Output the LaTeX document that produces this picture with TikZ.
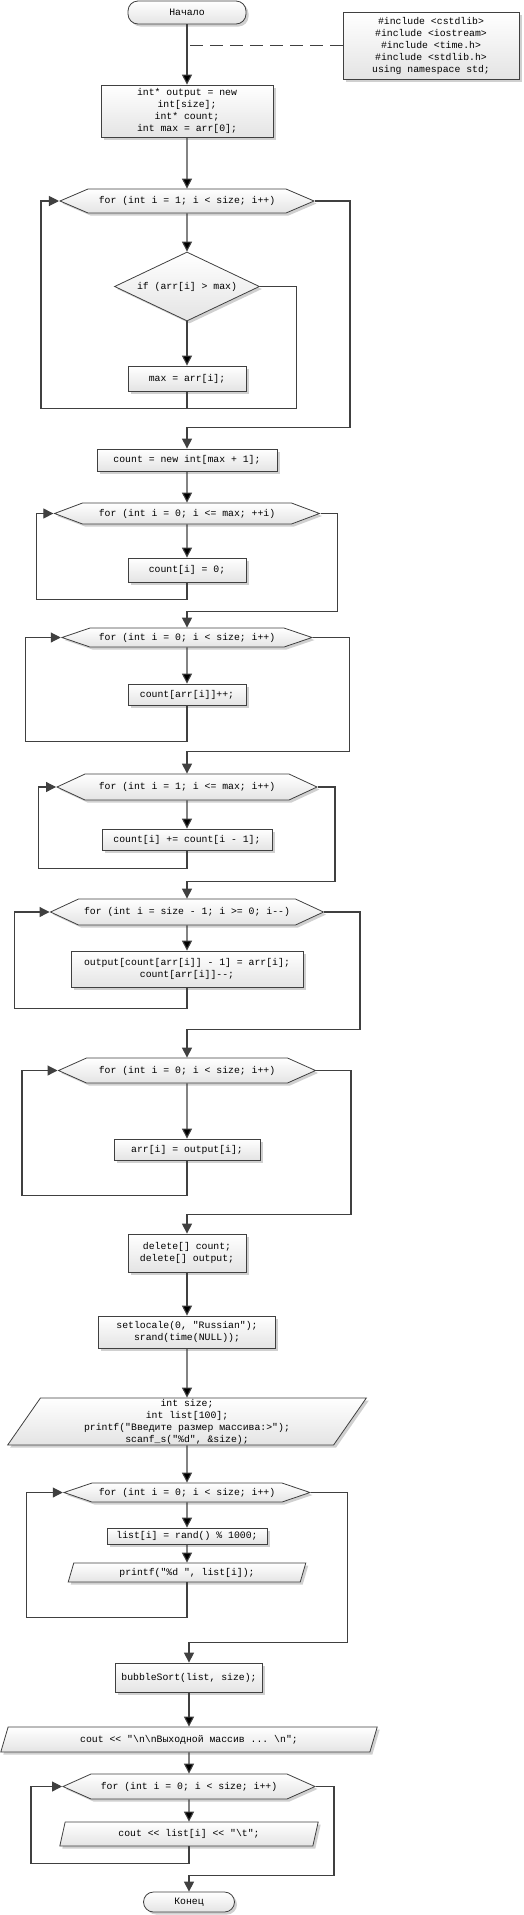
\documentclass[tikz,border=0pt]{standalone}
\usepackage{fontspec}
\setmonofont{Liberation Mono}
\usepackage{tikz}
\usetikzlibrary{positioning, shapes.geometric, shapes.symbols, shadows, arrows.meta}

\definecolor{linegray}{RGB}{64,64,64}
\definecolor{fillgray}{RGB}{228,228,228}
\definecolor{shadowgray}{RGB}{208,208,208}

\begin{document}
\begin{tikzpicture}[auto, thick,
  every node/.style={font=\ttfamily\fontsize{9.8}{12}\selectfont, align=center, inner sep=0pt},
  main node/.style={draw=linegray, line width=0.8pt, top color=white, bottom color=fillgray,
    drop shadow={shadow xshift=2.5pt, shadow yshift=-2.5pt, fill=shadowgray, opacity=1}},
  box node/.style={main node, rectangle},
  end node/.style={main node, rectangle, rounded corners=10pt},
  loop node/.style={main node, signal, signal to=east and west},
  if node/.style={main node, diamond, aspect=2.1},
  io node/.style={main node, trapezium, trapezium stretches=true},
  back/.style={draw=linegray, line width=1.1pt},
  flow/.style={back, -{Triangle[length=10pt,width=10pt]}}]
  \useasboundingbox (0,0) rectangle (524pt,-1915pt);

  \node[end node, minimum width=118pt, minimum height=23pt] (1) at (187pt,-12.5pt) {Начало};
  \node[box node, minimum width=176pt, minimum height=67pt] (2) [node distance=244pt, right of=1, yshift=-33pt]
    {\#include <cstdlib>\\\#include <iostream>\\\#include <time.h>\\\#include <stdlib.h>\\using namespace std;};
  \node[box node, minimum width=172pt, minimum height=52pt] (3) [node distance=98.5pt, below of=1]
    {int* output = new\\int[size];\\int* count;\\int max = arr[0];};
  \node[loop node, minimum width=254pt, minimum height=24pt, signal pointer angle=46.4] (4) [node distance=90pt, below of=3]
    {for (int i = 1; i < size; i++)};
  \node[if node, minimum width=145pt, minimum height=69pt] (5) [node distance=85.5pt, below of=4] {if (arr[i] > max)};
  \node[box node, minimum width=118pt, minimum height=25pt] (6) [node distance=92pt, below of=5] {max = arr[i];};
  \node[box node, minimum width=180pt, minimum height=22pt] (7) [node distance=81.5pt, below of=6] {count = new int[max + 1];};
  \node[loop node, minimum width=265pt, minimum height=21pt, signal pointer angle=41.1] (8) [node distance=53.5pt, below of=7]
    {for (int i = 0; i <= max; ++i)};
  \node[box node, minimum width=118pt, minimum height=24pt] (9) [node distance=56.5pt, below of=8] {count[i] = 0;};
  \node[loop node, minimum width=250pt, minimum height=19pt, signal pointer angle=37.5] (10) [node distance=67.5pt, below of=9]
    {for (int i = 0; i < size; i++)};
  \node[box node, minimum width=118pt, minimum height=21pt] (11) [node distance=57pt, below of=10] {count[arr[i]]++;};
  \node[loop node, minimum width=260pt, minimum height=26pt, signal pointer angle=49.8] (12) [node distance=92.5pt, below of=11]
    {for (int i = 1; i <= max; i++)};
  \node[box node, minimum width=170pt, minimum height=21pt] (13) [node distance=52.5pt, below of=12] {count[i] += count[i - 1];};
  \node[loop node, minimum width=273pt, minimum height=26pt, signal pointer angle=49.8] (14) [node distance=72.5pt, below of=13]
    {for (int i = size - 1; i >= 0; i-{}-)};
  \node[box node, minimum width=232pt, minimum height=36pt] (15) [node distance=57pt, below of=14]
    {output[count[arr[i]] - 1] = arr[i];\\count[arr[i]]-{}-;};
  \node[loop node, minimum width=257pt, minimum height=25pt, signal pointer angle=48.1] (16) [node distance=101.5pt, below of=15]
    {for (int i = 0; i < size; i++)};
  \node[box node, minimum width=146pt, minimum height=21pt] (17) [node distance=79pt, below of=16] {arr[i] = output[i];};
  \node[box node, minimum width=118pt, minimum height=38pt] (18) [node distance=103.5pt, below of=17]
    {delete[] count;\\delete[] output;};
  \node[box node, minimum width=177pt, minimum height=32pt] (19) [node distance=79pt, below of=18]
    {setlocale(0, "Russian");\\srand(time(NULL));};
  \node[io node, minimum width=359pt, minimum height=47pt, trapezium left angle=63, trapezium right angle=117] (20)
    [node distance=89.5pt, below of=19]
    {int size;\\int list[100];\\printf("Введите размер массива:>");\\scanf\_s("\%d", \&size);};
  \node[loop node, minimum width=246pt, minimum height=19pt, signal pointer angle=37.5] (21) [node distance=71pt, below of=20]
    {for (int i = 0; i < size; i++)};
  \node[box node, minimum width=160pt, minimum height=16pt] (22) [node distance=43.5pt, below of=21] {list[i] = rand() \% 1000;};
  \node[io node, minimum width=238pt, minimum height=19pt, trapezium left angle=70, trapezium right angle=110] (23)
    [node distance=36.5pt, below of=22] {printf("\%d ", list[i]);};
  \node[box node, minimum width=147pt, minimum height=29pt] (24) [node distance=105pt, below of=23, xshift=2pt]
    {bubbleSort(list, size);};
  \node[io node, minimum width=377pt, minimum height=25pt, trapezium left angle=64, trapezium right angle=116] (25)
    [node distance=62pt, below of=24]
    {cout << "\textbackslash n\textbackslash nВыходной массив ... \textbackslash n";};
  \node[loop node, minimum width=252pt, minimum height=25pt, signal pointer angle=48.1] (26) [node distance=47pt, below of=25]
    {for (int i = 0; i < size; i++)};
  \node[io node, minimum width=259pt, minimum height=24pt, trapezium left angle=71.5, trapezium right angle=108.5] (27)
    [node distance=47.5pt, below of=26] {cout << list[i] << "\textbackslash t";};
  \node[end node, minimum width=91pt, minimum height=20pt] (28) [node distance=68pt, below of=27] {Конец};

  % comment link
  \draw[back, dash pattern=on 13pt off 7pt] (2.west) -- ([xshift=2pt]1.south |- 2.west);

  % straight flow
  \path[flow] (1) edge (3);
  \path[flow] (3) edge (4);
  \path[flow] (4) edge (5);
  \path[flow] (5) edge (6);
  \path[flow] (7) edge (8);
  \path[flow] (8) edge (9);
  \path[flow] (10) edge (11);
  \path[flow] (12) edge (13);
  \path[flow] (14) edge (15);
  \path[flow] (16) edge (17);
  \path[flow] (18) edge (19);
  \path[flow] (19) edge (20);
  \path[flow] (20) edge (21);
  \path[flow] (21) edge (22);
  \path[flow] (22) edge (23);
  \path[flow] (24) edge (25);
  \path[flow] (25) edge (26);
  \path[flow] (26) edge (27);

  % loops
  \draw[flow] (6.south) -- ++(0,-17pt) -| ([xshift=-18pt]4.west) -- (4.west);
  \draw[back] (5.east) -- ++(37pt,0) |- ([yshift=-17pt]6.south);
  \draw[flow] (4.east) -- ++(35pt,0) |- ([yshift=21pt]7.north) -- (7.north);

  \draw[flow] (9.south) -- ++(0,-17pt) -| ([xshift=-16.5pt]8.west) -- (8.west);
  \draw[flow] (8.east) -- ++(16.5pt,0) |- ([yshift=16pt]10.north) -- (10.north);

  \draw[flow] (11.south) -- ++(0,-36pt) -| ([xshift=-35pt]10.west) -- (10.west);
  \draw[flow] (10.east) -- ++(36pt,0) |- ([yshift=22pt]12.north) -- (12.north);

  \draw[flow] (13.south) -- ++(0,-18pt) -| ([xshift=-18pt]12.west) -- (12.west);
  \draw[flow] (12.east) -- ++(17pt,0) |- ([yshift=17pt]14.north) -- (14.north);

  \draw[flow] (15.south) -- ++(0,-21pt) -| ([xshift=-35.5pt]14.west) -- (14.west);
  \draw[flow] (14.east) -- ++(35.5pt,0) |- ([yshift=28pt]16.north) -- (16.north);

  \draw[flow] (17.south) -- ++(0,-35pt) -| ([xshift=-35.5pt]16.west) -- (16.west);
  \draw[flow] (16.east) -- ++(34.5pt,0) |- ([yshift=19pt]18.north) -- (18.north);

  \draw[flow] (23.south) -- ++(0,-35pt) -| ([xshift=-36pt]21.west) -- (21.west);
  \draw[flow] (21.east) -- ++(36pt,0) |- ([yshift=20pt]24.north) -- (24.north);

  \draw[flow] (27.south) -- ++(0,-17pt) -| ([xshift=-31pt]26.west) -- (26.west);
  \draw[flow] (26.east) -- ++(18pt,0) |- ([yshift=16pt]28.north) -- (28.north);
\end{tikzpicture}
\end{document}
